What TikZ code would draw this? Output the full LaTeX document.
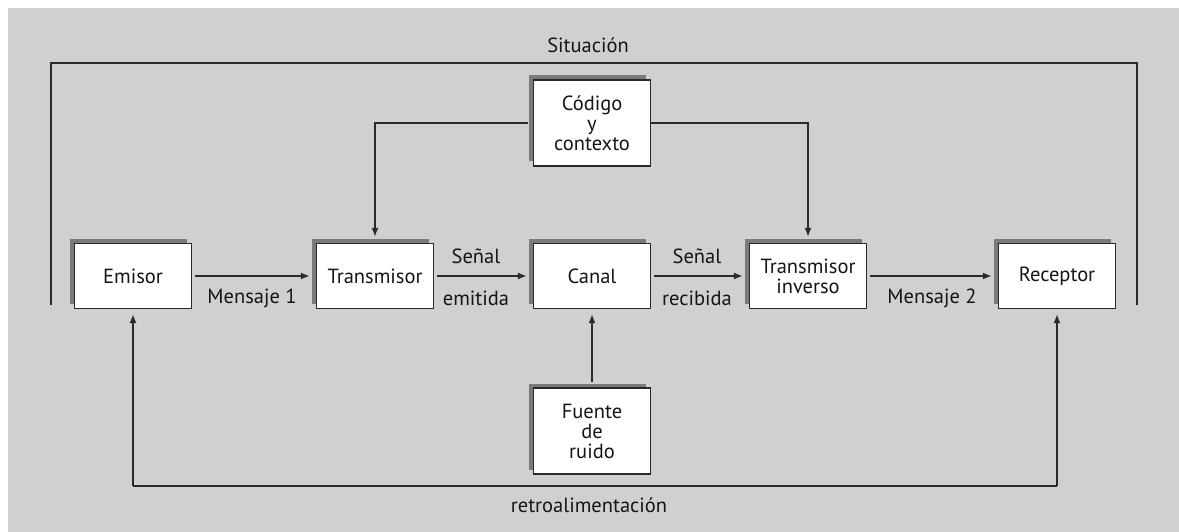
\documentclass[tikz,border=0pt]{standalone}
\usepackage{fontspec}
\setmainfont{PT Sans}
\usetikzlibrary{arrows.meta,shadows}
\definecolor{bg}{HTML}{D0D0D0}
\definecolor{ln}{HTML}{2A2A2A}
\definecolor{shd}{HTML}{7A7A7A}
\definecolor{tx}{HTML}{151515}
\begin{document}
\begin{tikzpicture}[x=1pt,y=-1pt,
  txt/.style={font=\fontsize{20.5}{20}\selectfont, text=tx},
  box/.style={txt, draw=ln, line width=1.3pt, fill=white, minimum width=117pt, minimum height=65pt,
    inner sep=2pt, align=center,
    general shadow={fill=shd, shadow xshift=-4.5pt, shadow yshift=4.5pt}},
  tall/.style={box, minimum height=86pt},
  wire/.style={draw=ln, line width=1.5pt},
  conn/.style={wire, -{Latex[length=9pt,width=7pt]}},
  lbl/.style={txt, inner sep=0pt}
]
\useasboundingbox (0,0) rectangle (1179,532);
\fill[white] (0,0) rectangle (1179,532);
\fill[bg] (8,8) rectangle (1179,532);

% frame "Situación"
\coordinate (sA) at (51,305);
\coordinate (sB) at (51,63);
\coordinate (sC) at (1137,63);
\coordinate (sD) at (1137,305);
\draw[wire, line width=1.7pt] (sA) -- (sB) -- (sC) -- (sD);
\node[lbl] (sit) at (588,45) {Situación};

% boxes
\node[box] (em) at (133,276) {Emisor};
\node[box] (tr) at (375,276) {Transmisor};
\node[box] (ca) at (592,276) {Canal};
\node[box] (ti) at (808,276) {Transmisor\\inverso};
\node[box] (re) at (1057,276) {Receptor};
\node[tall] (co) at (592,123) {Código\\y\\contexto};
\node[tall] (fu) at (592,431) {Fuente\\de\\ruido};

% main chain
\draw[conn, shorten <=3pt, shorten >=6pt] (em) -- (tr);
\draw[conn, shorten <=3pt, shorten >=6pt] (tr) -- (ca);
\draw[conn, shorten <=3pt, shorten >=6pt] (ca) -- (ti);
\draw[conn, shorten <=3pt, shorten >=6pt] (ti) -- (re);

\node[lbl] (m1) at (252,298) {Mensaje 1};
\node[lbl] (s1) at (476,256) {Señal};
\node[lbl] (e1) at (476,298) {emitida};
\node[lbl] (s2) at (697,256) {Señal};
\node[lbl] (r2) at (697,298) {recibida};
\node[lbl] (m2) at (932,298) {Mensaje 2};

% code and context
\draw[conn, shorten <=5pt, shorten >=6pt] (co.west) -| (tr.north);
\draw[conn, shorten >=6pt] (co.east) -| (ti.north);

% noise
\draw[conn, shorten <=5pt, shorten >=5pt] (fu.north) -- (ca.south);

% feedback
\coordinate (fbL) at (133,486);
\coordinate (fbR) at (1057,486);
\draw[conn, shorten >=5pt] (fbL) -- (em.south);
\draw[conn, shorten >=5pt] (fbR) -- (re.south);
\draw[wire] (fbL) -- (fbR);
\node[lbl] (fb) at (589,505) {retroalimentación};
\end{tikzpicture}
\end{document}
